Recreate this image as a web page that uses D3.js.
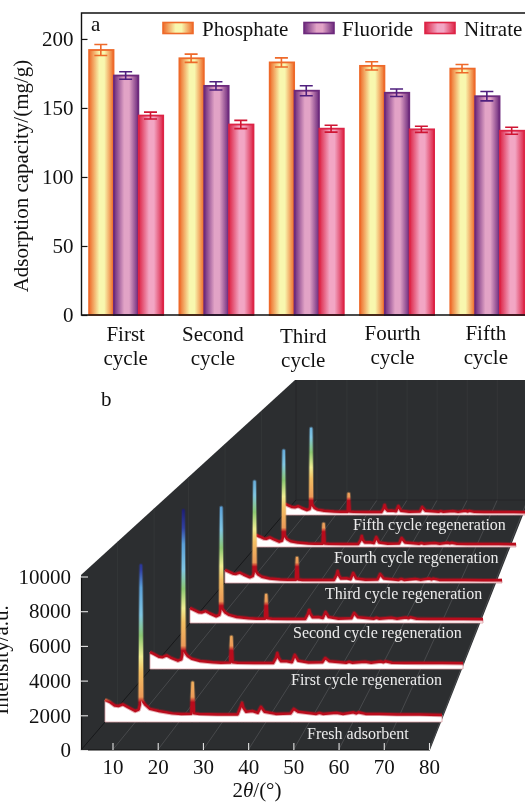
<!DOCTYPE html>
<html lang="en">
<head>
<meta charset="utf-8">
<title>Adsorption cycles</title>
<script src="https://d3js.org/d3.v7.min.js"></script>
<style>
  body { margin: 0; background: #fff; }
  svg { display: block; font-family: "Liberation Serif", serif; filter: blur(0.4px); }
  text { fill: #111; }
</style>
</head>
<body>
<script>
// panel a data
var cycles = ["First", "Second", "Third", "Fourth", "Fifth"];
var anions = ["Phosphate", "Fluoride", "Nitrate"];
var phosphate = [192, 186, 183, 180.5, 178.5];
var fluoride = [173.5, 166, 162.5, 161, 158.5];
var nitrate = [144.5, 138, 135, 134.5, 133.5];
var phosphateErr = [4, 3, 3.3, 3, 3];
var fluorideErr = [2.7, 3, 3.6, 2.7, 3.4];
var nitrateErr = [2.5, 3, 2.5, 2.2, 2.5];
var capacityTicks = [0, 50, 100, 150, 200];

// panel b data
var patternNames = ["Fresh adsorbent", "First cycle regeneration", "Second cycle regeneration",
  "Third cycle regeneration", "Fourth cycle regeneration", "Fifth cycle regeneration"];
var twoTheta = [5,6,7.2,8,9,10,11.7,12.5,12.75,13,13.25,13.5,14,15,17,20,22,24.2,24.5,24.8,26,30,34.5,35.2,35.5,35.8,36.4,37.8,39,39.7,40.5,43,46.3,47,48,52,52.7,53.5,56.5,58,60.3,60.9,61.4,63,66,70,75,80];
var fresh = [1290,1170,950,930,1020,880,640,720,1000,9070,1300,1170,990,760,640,500,470,480,2280,500,470,440,440,900,1110,820,590,640,530,880,590,470,500,760,590,470,530,470,530,470,560,500,560,470,470,440,440,410];
var cycle1 = [1060,930,760,740,850,700,520,600,900,9890,1150,1000,820,640,500,420,390,400,2000,420,390,375,370,700,1000,720,480,480,420,880,520,400,420,690,480,390,450,390,450,390,470,420,480,390,380,375,370,360];
var cycle2 = [1000,880,720,700,790,650,450,540,800,7690,1000,880,700,540,400,320,290,290,1870,310,280,270,270,620,870,620,380,400,330,735,400,290,310,670,380,280,350,280,350,280,370,310,380,280,270,265,260,250];
var cycle3 = [920,800,660,640,730,600,400,480,700,7140,950,780,600,440,320,250,230,230,1770,250,220,210,210,560,850,560,320,340,270,710,320,230,250,640,320,220,290,220,290,220,310,250,310,220,210,210,200,190];
var cycle4 = [900,790,640,620,720,590,400,470,700,7240,940,760,580,430,330,270,250,250,1730,260,240,230,230,540,830,540,340,350,290,750,340,250,270,680,340,240,300,240,300,240,320,270,320,240,230,225,220,210];
var cycle5 = [880,760,630,610,700,580,400,470,700,6880,920,750,570,430,340,280,260,260,1680,270,250,240,240,530,800,530,340,350,300,720,340,260,280,640,340,250,310,250,310,250,330,280,330,250,240,235,230,220];
var intensityTicks = [0, 2000, 4000, 6000, 8000, 10000];
var angleTicks = [10, 20, 30, 40, 50, 60, 70, 80];

// layout of the pseudo 3d planes, front to back
var planeLeft = [105, 150, 190, 225, 256, 285];
var planeRight = [442, 463, 483, 502, 516, 530];
var planeFloor = [722, 669, 623, 583, 547, 515];
var labelX = [307, 291, 293, 325, 334, 353];
var labelY = [739, 685, 638, 599, 563, 530];

var svg = d3.select("body").append("svg")
  .attr("width", 525)
  .attr("height", 802)
  .attr("viewBox", "0 0 525 802");
var defs = svg.append("defs");

/* ---------- panel a ---------- */
var colors = {
  Phosphate: { edge: "#ee6a2a", mid: "#f8f7ae", err: "#ee6a2a" },
  Fluoride: { edge: "#6d2a7c", mid: "#e2a3c6", err: "#4f1f7e" },
  Nitrate: { edge: "#dd2446", mid: "#f2a6c4", err: "#cf1533" }
};
anions.forEach(function(a) {
  var g = defs.append("linearGradient").attr("id", "bar" + a);
  g.append("stop").attr("offset", "0%").attr("stop-color", colors[a].edge);
  g.append("stop").attr("offset", "42%").attr("stop-color", colors[a].mid);
  g.append("stop").attr("offset", "62%").attr("stop-color", colors[a].mid);
  g.append("stop").attr("offset", "100%").attr("stop-color", colors[a].edge);
});

var yCap = d3.scaleLinear().domain([0, 218.8]).range([315, 13]);
var xCycle = d3.scaleBand().domain(cycles).range([80.5, 532]).paddingInner(0.175).paddingOuter(0.0875);
var xAnion = d3.scaleBand().domain(anions).range([0, xCycle.bandwidth()]);

var values = { Phosphate: phosphate, Fluoride: fluoride, Nitrate: nitrate };
var errors = { Phosphate: phosphateErr, Fluoride: fluorideErr, Nitrate: nitrateErr };

var panelA = svg.append("g");
anions.forEach(function(a) {
  cycles.forEach(function(c, i) {
    var x = xCycle(c) + xAnion(a);
    var w = xAnion.bandwidth();
    var v = values[a][i], e = errors[a][i];
    panelA.append("rect")
      .attr("x", x + 0.7)
      .attr("y", yCap(v))
      .attr("width", w - 0.4)
      .attr("height", yCap(0) - yCap(v))
      .attr("fill", "url(#bar" + a + ")")
      .attr("stroke", colors[a].edge)
      .attr("stroke-width", 1.8);
    var mid = x + w / 2;
    var path = d3.path();
    path.moveTo(mid, yCap(v + e)); path.lineTo(mid, yCap(v - e));
    path.moveTo(mid - 6.5, yCap(v + e)); path.lineTo(mid + 6.5, yCap(v + e));
    path.moveTo(mid - 6.5, yCap(v - e)); path.lineTo(mid + 6.5, yCap(v - e));
    panelA.append("path")
      .attr("d", path.toString())
      .attr("fill", "none")
      .attr("stroke", colors[a].err)
      .attr("stroke-width", 1.6);
  });
});

// frame
panelA.append("path")
  .attr("d", "M525,13H81.5V315H525")
  .attr("fill", "none")
  .attr("stroke", "#111")
  .attr("stroke-width", 1.4);

var axisA = panelA.append("g")
  .attr("transform", "translate(81.5,0)")
  .call(d3.axisLeft(yCap).tickValues(capacityTicks).tickSize(-6).tickSizeOuter(0).tickPadding(8));
axisA.select(".domain").remove();
axisA.selectAll("line").attr("stroke", "#111").attr("stroke-width", 1.2);
axisA.selectAll("text").attr("font-size", 21).attr("font-family", "Liberation Serif").attr("fill", "#111");

// category labels sit a bit off centre in the original
var catNudgeX = [0, -3, -3, -4, -1];
var catNudgeY = [0, 0, 2, -1, -1];
cycles.forEach(function(c, i) {
  var cx = xCycle(c) + xCycle.bandwidth() / 2 + catNudgeX[i];
  var t = panelA.append("text")
    .attr("text-anchor", "middle")
    .attr("font-size", 21);
  t.append("tspan").attr("x", cx).attr("y", 341 + catNudgeY[i]).text(c);
  t.append("tspan").attr("x", cx).attr("y", 365 + catNudgeY[i]).text("cycle");
});

panelA.append("text")
  .attr("transform", "translate(28,176) rotate(-90)")
  .attr("text-anchor", "middle")
  .attr("font-size", 21)
  .text("Adsorption capacity/(mg/g)");

panelA.append("text").attr("x", 91).attr("y", 31).attr("font-size", 21).text("a");

// legend
var legendSwatch = [163, 304, 425];
var legendText = [202, 342, 464];
anions.forEach(function(a, i) {
  panelA.append("rect")
    .attr("x", legendSwatch[i])
    .attr("y", 22.5)
    .attr("width", 30)
    .attr("height", 11)
    .attr("fill", "url(#bar" + a + ")")
    .attr("stroke", colors[a].edge)
    .attr("stroke-width", 1.6);
  panelA.append("text")
    .attr("x", legendText[i])
    .attr("y", 36)
    .attr("font-size", 21)
    .text(a);
});

/* ---------- panel b ---------- */
var panelB = svg.append("g");
panelB.append("text").attr("x", 101).attr("y", 406).attr("font-size", 21).text("b");

var xFront = d3.scaleLinear().domain([10, 80]).range([112.5, 429]);
var yFront = d3.scaleLinear().domain([0, 10000]).range([750, 576.5]);

// box corners
var frontL = [81, 750], frontR = [430, 750], backL = [296, 500], backR = [528, 500];
var topL = [295, 380], topR = [525, 380];

panelB.append("path")
  .attr("d", d3.line()([frontL, [81, 575], topL, topR, [525, 510], frontR]) + "Z")
  .attr("fill", "#2c2e30");

// faint grid, floor lines run from the front ticks towards the back wall
var t = d3.scaleLinear().domain([81, 430]).range([0, 1]);
angleTicks.forEach(function(a) {
  var f = t(xFront(a));
  var bx = backL[0] + (backR[0] - backL[0]) * f;
  panelB.append("line")
    .attr("x1", xFront(a)).attr("y1", 750)
    .attr("x2", bx).attr("y2", 500)
    .attr("stroke", "#535557").attr("stroke-width", 0.7);
  panelB.append("line")
    .attr("x1", bx).attr("y1", 500)
    .attr("x2", Math.min(bx, 525)).attr("y2", 380)
    .attr("stroke", "#36383a").attr("stroke-width", 0.8);
});
[0.17, 0.34, 0.5, 0.67, 0.84].forEach(function(s) {
  var wx = frontL[0] + (backL[0] - frontL[0]) * s;
  panelB.append("line")
    .attr("x1", wx).attr("y1", 750 - 250 * s)
    .attr("x2", wx).attr("y2", 575 - 195 * s)
    .attr("stroke", "#36383a").attr("stroke-width", 0.8);
});
panelB.append("line")
  .attr("x1", frontL[0]).attr("y1", frontL[1]).attr("x2", backL[0]).attr("y2", backL[1])
  .attr("stroke", "#17181a").attr("stroke-width", 1);
panelB.append("line")
  .attr("x1", backL[0]).attr("y1", 500).attr("x2", 525).attr("y2", 500)
  .attr("stroke", "#232527").attr("stroke-width", 0.8);
panelB.append("line")
  .attr("x1", backL[0]).attr("y1", 500).attr("x2", backL[0]).attr("y2", 380)
  .attr("stroke", "#232527").attr("stroke-width", 0.8);

// height colour map, by intensity
var heightStops = [[0, "#b90c1c"], [1150, "#b90c1c"], [1450, "#ec9a58"], [2900, "#f3bf62"], [3800, "#f1ee92"],
  [5000, "#8cc872"], [6200, "#80c6e2"], [7800, "#5a9fd8"], [8800, "#3040a2"], [10000, "#1b1b72"]];

var patterns = [fresh, cycle1, cycle2, cycle3, cycle4, cycle5];

// back plane first so the nearer ones cover it
d3.range(5, -1, -1).forEach(function(i) {
  var k = (planeRight[i] - planeLeft[i]) / 339;
  var x = d3.scaleLinear().domain([5, 80]).range([planeLeft[i], planeRight[i]]);
  var y = d3.scaleLinear().domain([0, 10000]).range([planeFloor[i], planeFloor[i] - 173.5 * k]);

  var grad = defs.append("linearGradient")
    .attr("id", "height" + i)
    .attr("gradientUnits", "userSpaceOnUse")
    .attr("x1", 0).attr("x2", 0)
    .attr("y1", y(0)).attr("y2", y(10000));
  heightStops.forEach(function(s) {
    grad.append("stop").attr("offset", s[0] / 10000).attr("stop-color", s[1]);
  });

  var pts = twoTheta.map(function(d, j) { return [d, patterns[i][j]]; });
  var area = d3.area()
    .x(function(d) { return x(d[0]); })
    .y0(y(0))
    .y1(function(d) { return y(d[1]); });
  var line = d3.line()
    .x(function(d) { return x(d[0]); })
    .y(function(d) { return y(d[1]); });

  panelB.append("path").attr("d", area(pts)).attr("fill", "#fff")
    .attr("stroke", "#dba0a4").attr("stroke-width", 0.8);
  panelB.append("path").attr("d", line(pts))
    .attr("fill", "none")
    .attr("stroke", "url(#height" + i + ")")
    .attr("stroke-width", 4.4)
    .attr("stroke-opacity", 0.35)
    .attr("stroke-linejoin", "round");
  panelB.append("path").attr("d", line(pts))
    .attr("fill", "none")
    .attr("stroke", "url(#height" + i + ")")
    .attr("stroke-width", 2.5)
    .attr("stroke-linejoin", "round");

  panelB.append("text")
    .attr("x", labelX[i])
    .attr("y", labelY[i])
    .attr("font-size", 16)
    .style("fill", "#ececec")
    .text(patternNames[i]);
});

// axes
var axisX = panelB.append("g")
  .attr("transform", "translate(0,750)")
  .call(d3.axisBottom(xFront).tickValues(angleTicks).tickSize(-7).tickSizeOuter(0).tickPadding(9));
axisX.select(".domain").attr("d", "M81,0H430").attr("stroke", "#111").attr("stroke-width", 1.2);
axisX.selectAll("line").attr("stroke", "#e4e4e4").attr("stroke-width", 1.1);
axisX.selectAll("text").attr("font-size", 21).attr("font-family", "Liberation Serif").attr("fill", "#111");

var axisY = panelB.append("g")
  .attr("transform", "translate(81,0)")
  .call(d3.axisLeft(yFront).tickValues(intensityTicks).tickSize(-7).tickSizeOuter(0).tickFormat(d3.format("d")).tickPadding(10));
axisY.select(".domain").attr("stroke", "#111").attr("stroke-width", 1.2);
axisY.selectAll("line").attr("stroke", "#e4e4e4").attr("stroke-width", 1.1);
axisY.selectAll("text").attr("font-size", 21).attr("font-family", "Liberation Serif").attr("fill", "#111");

panelB.append("text")
  .attr("transform", "translate(8,660) rotate(-90)")
  .attr("text-anchor", "middle")
  .attr("font-size", 21)
  .text("Intensity/a.u.");

var xTitle = panelB.append("text")
  .attr("x", 257)
  .attr("y", 797)
  .attr("text-anchor", "middle")
  .attr("font-size", 21);
xTitle.append("tspan").text("2");
xTitle.append("tspan").attr("font-style", "italic").text("\u03b8");
xTitle.append("tspan").text("/(\u00b0)");
</script>
</body>
</html>
